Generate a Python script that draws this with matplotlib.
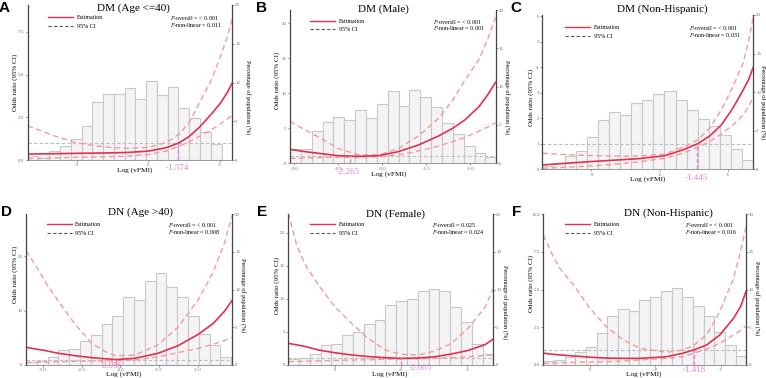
import numpy as np
import matplotlib
matplotlib.use("Agg")
import matplotlib.pyplot as plt
from matplotlib.lines import Line2D

plt.rcParams['font.family'] = ['Liberation Serif', 'DejaVu Serif']
plt.rcParams['mathtext.fontset'] = 'stix'

# ---- data ------------------------------------------------------------------
titles = ["DM (Age <=40)", "DM (Male)", "DM (Non-Hispanic)",
          "DN (Age >40)", "DN (Female)", "DN (Non-Hispanic)"]
letters = ["A", "B", "C", "D", "E", "F"]
p_overall = ["< 0.001", "< 0.001", "< 0.001", "< 0.001", "0.025", "< 0.001"]
p_nonlin = ["0.011", "0.001", "0.031", "0.008", "0.024", "0.016"]
ref_text = ["-1.574", "-2.265", "-1.445", "-2.056", "-2.005", "-1.418"]
ref_x = [-1.58, -2.37, -1.45, -2.06, -2.0, -1.418]

# A  DM (Age <=40)
a_x = [-3.68, -3.3, -3.0, -2.6, -2.3, -2.0, -1.75, -1.574, -1.43, -1.28, -1.13, -1.0, -0.9, -0.83]
a_est = [0.35, 0.37, 0.39, 0.41, 0.44, 0.52, 0.72, 1.0, 1.38, 1.95, 2.65, 3.3, 3.95, 4.52]
a_hi = [2.0, 1.4, 1.0, 0.76, 0.68, 0.74, 1.02, 1.5, 2.2, 3.4, 4.6, 6.0, 7.2, 8.3]
a_lo = [0.08, 0.12, 0.16, 0.19, 0.22, 0.32, 0.52, 0.8, 1.07, 1.4, 1.75, 2.1, 2.4, 2.6]
a_hist = [0.47, 0.2, 1.16, 1.85, 2.67, 4.39, 7.48, 8.47, 8.52, 9.25, 7.83, 10.15,
          8.43, 9.42, 6.67, 5.42, 3.61, 2.06]
a_bin0, a_binw = -3.68, 0.150

# B  DM (Male)
b_x = [-3.05, -2.9, -2.73, -2.5, -2.265, -2.04, -1.82, -1.59, -1.36, -1.2, -1.06, -0.9, -0.8, -0.71]
b_est = [2.0, 1.7, 1.43, 1.09, 1.0, 1.09, 1.66, 2.61, 3.9, 5.0, 6.2, 8.1, 9.8, 11.6]
b_hi = [6.0, 4.9, 3.8, 2.1, 1.2, 1.2, 2.1, 3.9, 6.4, 9.0, 11.9, 14.8, 17.8, 20.9]
b_lo = [0.7, 0.75, 0.8, 0.85, 0.85, 0.95, 1.2, 1.75, 2.45, 3.1, 3.7, 4.6, 5.2, 5.8]
b_hist = [1.83, 1.83, 4.2, 5.4, 6.0, 5.65, 6.96, 5.87, 7.74, 9.43, 7.52, 9.52,
          8.6, 7.35, 5.2, 3.83, 2.2, 1.3, 0.87]
b_bin0, b_binw = -3.05, 0.1235

# C  DM (Non-Hispanic)
c_x = [-3.72, -3.4, -3.02, -2.65, -2.29, -1.93, -1.66, -1.445, -1.27, -1.1, -0.93, -0.78, -0.7, -0.63]
c_est = [0.17, 0.23, 0.3, 0.36, 0.42, 0.53, 0.76, 1.0, 1.3, 1.73, 2.39, 3.1, 3.5, 4.0]
c_hi = [0.63, 0.58, 0.54, 0.52, 0.52, 0.6, 0.86, 1.15, 1.6, 2.32, 3.23, 4.15, 5.0, 5.97]
c_lo = [0.04, 0.08, 0.13, 0.2, 0.3, 0.43, 0.63, 0.86, 1.08, 1.38, 1.73, 2.12, 2.45, 2.84]
c_hist = [0.43, 0.86, 1.74, 2.39, 4.17, 6.43, 7.43, 7.0, 8.6, 8.96, 9.7, 10.15,
          9.0, 7.74, 6.5, 5.65, 4.45, 2.6, 1.15]
c_bin0, c_binw = -3.72, 0.1626

# D  DN (Age >40)
d_x = [-3.22, -3.1, -2.97, -2.8, -2.58, -2.37, -2.2, -2.056, -1.81, -1.51, -1.25, -0.99, -0.8, -0.65, -0.55]
d_est = [3.26, 2.95, 2.65, 2.15, 1.7, 1.35, 1.15, 1.0, 1.23, 2.15, 3.56, 5.65, 7.6, 9.9, 11.9]
d_hi = [21.0, 18.4, 15.3, 11.7, 7.4, 4.0, 2.5, 1.7, 1.84, 3.7, 7.0, 12.0, 17.0, 22.5, 27.6]
d_lo = [0.45, 0.5, 0.55, 0.6, 0.67, 0.72, 0.76, 0.78, 0.92, 1.5, 2.27, 3.07, 3.8, 4.5, 5.1]
d_hist = [0.35, 0.58, 1.1, 1.95, 2.17, 3.14, 3.94, 5.49, 6.5, 9.07, 8.67, 11.1,
          12.2, 10.35, 9.07, 6.46, 4.16, 2.6, 1.1]
d_bin0, d_binw = -3.22, 0.1398

# E  DN (Female)
e_x = [-3.705, -3.58, -3.45, -3.25, -3.0, -2.75, -2.5, -2.24, -2.005, -1.74, -1.49, -1.24, -0.99, -0.73, -0.61]
e_est = [3.28, 3.05, 2.8, 2.27, 1.85, 1.52, 1.28, 1.11, 1.0, 1.06, 1.25, 1.67, 2.2, 3.1, 3.94]
e_hi = [23.0, 18.2, 15.2, 12.1, 8.8, 6.3, 4.04, 2.27, 1.62, 1.52, 2.12, 3.28, 5.56, 8.8, 11.6]
e_lo = [0.5, 0.55, 0.58, 0.62, 0.68, 0.74, 0.8, 0.86, 0.9, 0.95, 1.02, 1.11, 1.25, 1.45, 1.55]
e_hist = [0.8, 0.88, 1.46, 2.65, 2.79, 3.98, 4.34, 5.44, 5.93, 7.92, 8.45, 8.76,
          9.78, 10.09, 9.78, 7.74, 5.66, 2.74, 1.42]
e_bin0, e_binw = -3.705, 0.163

# F  DN (Non-Hispanic)
f_x = [-3.71, -3.58, -3.46, -3.25, -3.0, -2.75, -2.49, -2.24, -1.83, -1.58, -1.418, -1.22, -1.02, -0.81, -0.7, -0.62]
f_est = [0.78, 0.72, 0.67, 0.6, 0.52, 0.46, 0.44, 0.44, 0.55, 0.78, 1.0, 1.33, 1.99, 3.1, 3.9, 4.87]
f_hi = [8.63, 7.4, 6.42, 5.31, 3.76, 2.54, 1.66, 1.11, 0.84, 1.0, 1.3, 2.0, 3.54, 5.75, 7.6, 9.18]
f_lo = [0.11, 0.13, 0.15, 0.18, 0.2, 0.22, 0.26, 0.33, 0.44, 0.55, 0.78, 1.06, 1.44, 1.99, 2.3, 2.6]
f_hist = [0.53, 0.71, 1.02, 1.68, 2.35, 4.2, 6.5, 7.39, 7.12, 8.63, 8.98, 9.78,
          10.22, 9.07, 7.79, 6.55, 4.34, 2.65, 1.19]
f_bin0, f_binw = -3.71, 0.1629

xlims = [(-3.68, -0.83), (-3.05, -0.71), (-3.72, -0.63),
         (-3.22, -0.55), (-3.705, -0.61), (-3.71, -0.62)]
ylims = [9.07, 21.9, 6.04, 27.7, 22.8, 10.0]
yticks = [[0, 2.5, 5, 7.5], [0, 5, 10, 15, 20], [0, 1, 2, 3, 4, 5, 6],
          [0, 10, 20], [0, 5, 10, 15, 20], [0, 2.5, 5, 7.5, 10]]
ytick_fmt = ["%.1f", "%d", "%d", "%d", "%d", "%.1f"]
xticks = [[-3, -2, -1], [-3.0, -2.5, -2.0, -1.5, -1.0], [-3, -2, -1],
          [-3.0, -2.5, -2.0, -1.5, -1.0], [-3, -2, -1], [-3, -2, -1]]
xtick_fmt = ["%d", "%.1f", "%d", "%.1f", "%d", "%d"]

curves = [(a_x, a_est, a_lo, a_hi), (b_x, b_est, b_lo, b_hi), (c_x, c_est, c_lo, c_hi),
          (d_x, d_est, d_lo, d_hi), (e_x, e_est, e_lo, e_hi), (f_x, f_est, f_lo, f_hi)]
hists = [(a_hist, a_bin0, a_binw), (b_hist, b_bin0, b_binw), (c_hist, c_bin0, c_binw),
         (d_hist, d_bin0, d_binw), (e_hist, e_bin0, e_binw), (f_hist, f_bin0, f_binw)]

# ---- layout (pixel positions in the 766x378 picture) ------------------------
W, H = 766, 378
rects = [(27.7, 5, 232.3, 160), (290, 10, 495.7, 163.3), (542.3, 15, 753.3, 169.3),
         (26, 214.3, 232.3, 365), (288.3, 214.3, 493.3, 365), (543.3, 214.3, 746, 365)]
title_pos = [(133.7, 8.3), (383.8, 9.2), (662, 9), (141, 212.5), (395.8, 214), (668.7, 212.8)]
letter_pos = [(4, 7.5), (261.7, 8), (516, 8), (6.7, 211.7), (261.7, 212), (516.7, 211.7)]
legend_pos = [(48, 15), (310, 18.5), (565, 25), (46.7, 222), (310, 222), (565, 222)]
ptext_pos = [(170, 18.3), (433.3, 21.7), (689, 28.3), (168.3, 225), (431.7, 225), (685, 225)]
xlabel_pos = [(134.5, 170), (388.3, 173.8), (648, 179.5), (123.3, 374.5), (390, 374.5), (644, 374.5)]
reflab_pos = [(177, 167.5), (347.8, 172), (696.7, 178), (111.7, 366.3), (420, 368.5), (694, 370.5)]
lylab = [(15, 82), (276.7, 80), (531, 97), (15, 274), (276.7, 285), (531, 283.5)]
rylab = [(248, 96.7), (506.5, 96.7), (763, 102), (243, 295), (504.5, 302), (756.5, 298)]

EST = '#e3304f'
CI = '#f59a9a'
PINK = '#ea80d8'
BAR_FACE = '#f4f4f6'
BAR_EDGE = '#c8c8c8'
SPINE = '#444444'


def fx(x):
    return x / W


def fy(y):
    return 1 - y / H


fig = plt.figure(figsize=(W / 100, H / 100), dpi=100)

for i in range(6):
    L, T, R, B = rects[i]
    ax = fig.add_axes([fx(L), fy(B), (R - L) / W, (B - T) / H])
    ax2 = ax.twinx()
    ax.set_zorder(ax2.get_zorder() + 1)
    ax.patch.set_visible(False)

    # histogram (right axis)
    h, b0, bw = hists[i]
    edges = b0 + bw * np.arange(len(h) + 1)
    ax2.bar(edges[:-1], h, width=bw, align='edge', color=BAR_FACE,
            edgecolor=BAR_EDGE, linewidth=0.8)
    ax2.set_ylim(0, 20)
    ax2.set_yticks([0, 5, 10, 15, 20])

    # odds ratio curves (left axis)
    x, est, lo, hi = curves[i]
    ax.axhline(1, color='#bdbdbd', ls=(0, (3, 2)), lw=0.8)
    ax.plot(x, hi, color=CI, ls=(0, (4, 2.5)), lw=1.0)
    ax.plot(x, lo, color=CI, ls=(0, (4, 2.5)), lw=1.0)
    ax.plot(x, est, color=EST, lw=1.2)
    ax.plot([ref_x[i], ref_x[i]], [0, 1], color=PINK, ls=(0, (3, 1.5)), lw=1.0)

    ax.set_xlim(*xlims[i])
    ax.set_ylim(0, ylims[i])
    ax2.set_xlim(*xlims[i])
    ax.set_yticks(yticks[i])
    ax.set_yticklabels([ytick_fmt[i] % v for v in yticks[i]])
    ax.set_xticks(xticks[i])
    ax.set_xticklabels([xtick_fmt[i] % v for v in xticks[i]])

    for a in (ax, ax2):
        a.tick_params(labelsize=3.5, colors='#666666', length=1.5, width=0.5, pad=1)
        for s in a.spines.values():
            s.set_visible(False)
    ax2.tick_params(pad=0.5)
    ax.spines['left'].set_visible(True)
    ax.spines['left'].set_color(SPINE)
    ax.spines['left'].set_linewidth(0.9)
    ax.spines['bottom'].set_visible(True)
    ax.spines['bottom'].set_color('#888888')
    ax.spines['bottom'].set_linewidth(0.6)
    ax2.spines['right'].set_visible(True)
    ax2.spines['right'].set_color(SPINE)
    ax2.spines['right'].set_linewidth(0.9)

    # axis labels placed where the reference has them
    ax.set_ylabel("Odds ratio (95% CI)", fontsize=5, va='center', ha='center')
    ax.yaxis.set_label_coords((lylab[i][0] - L) / (R - L), (B - lylab[i][1]) / (B - T))
    ax2.set_ylabel("Percentage of population (%)", fontsize=4.5, rotation=270,
                   va='center', ha='center')
    ax2.yaxis.set_label_coords((rylab[i][0] - L) / (R - L), (B - rylab[i][1]) / (B - T))

    fig.text(fx(xlabel_pos[i][0]), fy(xlabel_pos[i][1]), "Log (vFMI)",
             fontsize=5.3, ha='center', va='center')
    fig.text(fx(title_pos[i][0]), fy(title_pos[i][1]), titles[i],
             fontsize=8, ha='center', va='center')
    fig.text(fx(letter_pos[i][0]), fy(letter_pos[i][1]), letters[i],
             fontsize=11, fontweight='bold', family='Liberation Sans',
             ha='center', va='center')
    fig.text(fx(reflab_pos[i][0]), fy(reflab_pos[i][1]), ref_text[i],
             fontsize=6.5, color=PINK, ha='center', va='center')

    handles = [Line2D([], [], color=EST, lw=1.0),
               Line2D([], [], color='#555555', lw=0.8, ls=(0, (3, 2)))]
    ax.legend(handles, ["Estimation", "95% CI"], loc='upper left',
              bbox_to_anchor=(fx(legend_pos[i][0]), fy(legend_pos[i][1])),
              bbox_transform=fig.transFigure, frameon=False, fontsize=4.3,
              handlelength=4.2, handletextpad=0.6, borderpad=0, borderaxespad=0,
              labelspacing=0.55)

    px, py = ptext_pos[i]
    fig.text(fx(px), fy(py), r"$P$-overall = " + p_overall[i],
             fontsize=4.3, ha='left', va='center')
    fig.text(fx(px), fy(py + 6.8), r"$P$-non-linear = " + p_nonlin[i],
             fontsize=4.3, ha='left', va='center')

fig.savefig("out.png", dpi=100)
